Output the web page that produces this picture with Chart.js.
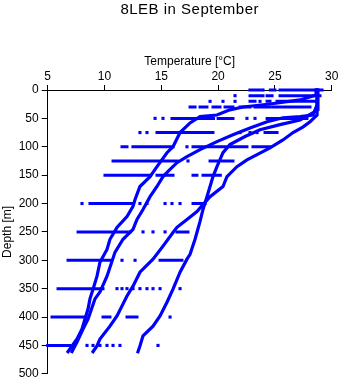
<!DOCTYPE html>
<html>
<head>
<meta charset="utf-8">
<script src="https://cdn.jsdelivr.net/npm/chart.js@4/dist/chart.umd.min.js"></script>
<style>
  html, body { margin: 0; padding: 0; background: #fff; }
  #c { display: block; }
</style>
</head>
<body>
<canvas id="c" width="341" height="384"></canvas>
<script>
// ---- data ----
const chartTitle = '8LEB in September';
const tempTicks = [5, 10, 15, 20, 25, 30];
const depthTicks = [0, 50, 100, 150, 200, 250, 300, 350, 400, 450, 500];

// CTD profiles (temperature °C, depth m)
const profile1T = [28.62, 28.62, 27.21, 24.57, 22.19, 21.04, 19.90, 18.41, 17.53, 16.65, 16.03, 15.50, 14.62, 14.01, 13.12, 12.69, 12.51, 11.98, 11.10, 10.48, 10.22, 9.60, 9.34, 8.99, 8.72, 8.55, 8.28, 8.02, 7.58, 7.14, 6.79];
const profile1D = [0, 9, 17.5, 24.6, 30, 35, 44, 47, 58, 75, 100, 110.5, 135, 152.6, 170, 193, 205, 223, 242, 263, 281, 303.5, 328, 351, 368, 386, 403.5, 421, 438.6, 451, 461];

const profile2T = [28.71, 28.71, 28.35, 27.21, 25.71, 24.31, 22.81, 21.31, 19.90, 18.41, 17.26, 16.38, 15.77, 15.15, 14.62, 14.01, 13.39, 12.86, 12.51, 11.63, 10.92, 10.22, 9.60, 9.16, 8.55, 8.11, 7.58, 7.14];
const profile2D = [0, 26, 44, 47, 49, 56, 67, 79, 91, 105, 117.5, 128, 140, 152.6, 170, 188, 210.5, 228, 245.6, 263, 286, 328, 356, 368, 403.5, 421, 444, 461];

const profile3T = [28.71, 28.71, 28.09, 27.49, 26.60, 25.71, 24.57, 23.43, 22.54, 21.66, 20.78, 20.43, 19.29, 18.67, 18.14, 17.26, 16.38, 16.03, 15.15, 14.27, 13.12, 12.51, 11.98, 11.10, 10.48, 9.60, 9.34, 8.99];
const profile3D = [0, 44, 56, 65, 75, 88, 102, 114, 123, 135, 152.6, 170, 188, 202, 214, 228, 242, 251, 275, 298, 321, 345.6, 363, 398, 416, 438.6, 451, 461];

const profile4T = [28.79, 28.79, 27.21, 25.45, 23.69, 22.37, 21.04, 20.43, 19.90, 19.55, 19.29, 19.02, 18.67, 18.41, 17.97, 17.53, 17.26, 16.65, 16.03, 15.50, 14.89, 14.27, 13.39, 13.12, 12.95];
const profile4D = [0, 35, 53, 61, 70, 82, 96, 110.5, 135, 152.6, 170, 188, 210.5, 231.6, 263, 289.5, 298, 321, 351, 374, 398, 416, 433, 451, 461];

// bottle samples at standard depths: continuous runs [from, to] and single readings
const stripDepths = [0, 10, 20, 30, 50, 75, 100, 125, 150, 200, 250, 300, 350, 400, 450];
const stripRuns = [
  [[22.8, 23.7], [24.6, 25.0], [25.45, 29.15]],
  [[22.81, 23.95], [24.31, 24.75], [25.45, 28.97]],
  [[22.81, 23.25], [24.31, 24.57], [25.19, 28.53]],
  [[17.53, 17.97], [18.41, 19.02], [19.55, 20.17], [20.61, 21.31], [21.93, 22.81], [23.25, 24.57], [24.84, 28.09]],
  [[15.94, 19.6], [20.0, 21.31], [24.31, 27.82]],
  [[14.62, 19.55], [24.13, 25.19]],
  [[11.54, 11.98], [12.5, 16.03], [17.79, 22.54], [23.07, 24.57]],
  [[10.75, 16.4], [19.29, 19.9], [20.34, 21.31]],
  [[10.04, 14.01], [14.62, 16.03], [17.79, 18.14], [18.67, 20.2]],
  [[8.72, 12.51], [17.79, 18.85]],
  [[7.67, 11.98], [16.38, 17.35]],
  [[6.79, 10.48], [14.89, 16.82]],
  [[5.91, 8.55], [8.72, 9.87]],
  [[5.38, 8.28], [9.87, 10.48], [11.98, 12.86]],
  [[5.0, 6.96]]
];
const stripSingles = [
  [23.95],
  [21.49],
  [19.29, 20.43, 21.49, 23.69],
  [],
  [14.45, 15.15, 22.54, 23.25],
  [13.12, 13.74, 21.93, 22.81, 23.43],
  [17.26],
  [17.35],
  [],
  [8.02, 13.12, 13.74, 15.33, 15.94, 16.65],
  [12.24, 13.39, 14.27, 15.33],
  [11.54, 12.69],
  [11.10, 11.54, 11.98, 12.51, 13.12, 13.74, 14.27, 14.89, 16.65],
  [15.77],
  [8.46, 8.99, 9.60, 10.22, 10.75, 11.36, 14.71]
];

// ---- build datasets ----
const BLUE = 'rgb(0,0,255)';
const FONT = "'Liberation Sans', Arial, Helvetica, sans-serif";

function profile(T, D) {
  return {
    data: T.map((t, i) => ({ x: t, y: D[i] })),
    showLine: true, borderColor: BLUE, borderWidth: 3.2, pointRadius: 0,
    borderJoinStyle: 'miter', borderCapStyle: 'square', tension: 0, clip: false
  };
}
const runPoints = [];
stripRuns.forEach((runs, i) => {
  runs.forEach(r => {
    runPoints.push({ x: r[0], y: stripDepths[i] });
    runPoints.push({ x: r[1], y: stripDepths[i] });
    runPoints.push({ x: r[1], y: null });
  });
});
const singlePoints = [];
stripSingles.forEach((vals, i) => vals.forEach(v => singlePoints.push({ x: v, y: stripDepths[i] })));

const titlePlugin = {
  id: 'topTitle',
  afterDraw(chart) {
    const { ctx, chartArea } = chart;
    ctx.save();
    ctx.fillStyle = '#000';
    ctx.font = '15px ' + FONT;
    if ('letterSpacing' in ctx) ctx.letterSpacing = '0.5px';
    ctx.textAlign = 'center';
    ctx.textBaseline = 'alphabetic';
    ctx.fillText(chartTitle, (chartArea.left + chartArea.right) / 2, 13.5);
    ctx.restore();
  }
};

new Chart(document.getElementById('c'), {
  type: 'scatter',
  data: {
    datasets: [
      profile(profile1T, profile1D),
      profile(profile2T, profile2D),
      profile(profile3T, profile3D),
      profile(profile4T, profile4D),
      { data: runPoints, showLine: true, spanGaps: false, borderColor: BLUE, borderWidth: 3,
        borderCapStyle: 'square', pointRadius: 0, clip: false },
      { data: singlePoints, showLine: false, pointStyle: 'rect', pointRadius: 2.2,
        pointBorderWidth: 0, backgroundColor: BLUE, borderColor: BLUE, clip: false }
    ]
  },
  options: {
    responsive: false,
    animation: false,
    devicePixelRatio: 1,
    layout: { padding: { top: 50, left: 0, right: 9.3, bottom: 9 } },
    plugins: { legend: { display: false }, title: { display: false }, tooltip: { enabled: false } },
    scales: {
      x: {
        type: 'linear', position: 'top', min: 5, max: 30,
        afterBuildTicks: s => { s.ticks = tempTicks.map(v => ({ value: v })); },
        afterFit: s => { s.height = 40; },
        ticks: { color: '#000', font: { family: FONT, size: 12 }, padding: 1, maxRotation: 0 },
        grid: { display: true, drawOnChartArea: false, drawTicks: true, tickLength: 5, color: '#000' },
        border: { display: true, color: '#000', width: 1 },
        title: { display: true, text: 'Temperature [°C]', color: '#000', font: { family: FONT, size: 12 }, padding: { top: 4, bottom: 0 } }
      },
      y: {
        type: 'linear', position: 'left', reverse: true, min: 0, max: 500,
        afterBuildTicks: s => { s.ticks = depthTicks.map(v => ({ value: v })); },
        afterFit: s => { s.width = 47.7; },
        ticks: { color: '#000', font: { family: FONT, size: 12 }, padding: 3 },
        grid: { display: true, drawOnChartArea: false, drawTicks: true, tickLength: 6, color: '#000' },
        border: { display: true, color: '#000', width: 1 },
        title: { display: true, text: 'Depth [m]', color: '#000', font: { family: FONT, size: 12 }, padding: { top: 0, bottom: 0 } }
      }
    }
  },
  plugins: [titlePlugin]
});
</script>
</body>
</html>
